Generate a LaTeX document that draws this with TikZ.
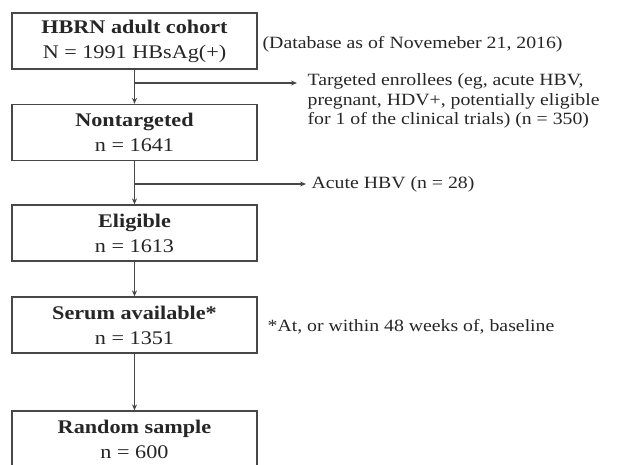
\documentclass[tikz,border=0pt]{standalone}
\usepackage{fontspec}
\setmainfont[FakeStretch=1.15]{Liberation Serif}
\usetikzlibrary{arrows.meta}

\begin{document}
\begin{tikzpicture}[x=1pt,y=-1pt,>={Stealth[length=6pt,width=5pt]},
  line width=1.3pt,
  stepbox/.style={draw=black!72,fill=white,minimum width=245pt,minimum height=56pt,
    align=center,inner sep=0pt,text=black!85,font=\fontsize{19.3}{25}\selectfont},
  sidetext/.style={anchor=west,align=left,inner sep=0pt,text=black!85,
    font=\fontsize{17.2}{19.5}\selectfont}]
  \useasboundingbox (0,0) rectangle (629,464);
  \begin{scope}
  \clip (0,0) rectangle (629,464);
  \node[stepbox] (cohort) at (134.5,41) {\textbf{HBRN adult cohort}\\N = 1991 HBsAg(+)};
  \node[stepbox] (nontgt) at (134.5,132.5) {\textbf{Nontargeted}\\n = 1641};
  \node[stepbox] (elig) at (134.5,233) {\textbf{Eligible}\\n = 1613};
  \node[stepbox] (serum) at (134.5,325) {\textbf{Serum available*}\\n = 1351};
  \node[stepbox] (rand) at (134.5,439) {\textbf{Random sample}\\n = 600};
  \end{scope}
  \node[sidetext] (dbnote) at (262,44) {(Database as of Novemeber 21, 2016)};
  \coordinate (tgtend) at (297,83);
  \node[sidetext,anchor=north west] (tgt) at (307,73) {Targeted enrollees (eg, acute HBV,\\pregnant, HDV+, potentially eligible\\for 1 of the clinical trials) (n = 350)};
  \coordinate (acuteend) at (306,184);
  \node[sidetext] (acute) at (311,184) {Acute HBV (n = 28)};
  \node[sidetext] (serumnote) at (267,327) {*At, or within 48 weeks of, baseline};
  % connectors
  \draw[black!72,->] (cohort) -- (nontgt);
  \draw[black!72,->] (cohort.south |- tgtend) -- (tgtend);
  \draw[black!72,->] (nontgt) -- (elig);
  \draw[black!72,->] (nontgt.south |- acuteend) -- (acuteend);
  \draw[black!72,->] (elig) -- (serum);
  \draw[black!72,->] (serum) -- (rand);
\end{tikzpicture}
\end{document}
